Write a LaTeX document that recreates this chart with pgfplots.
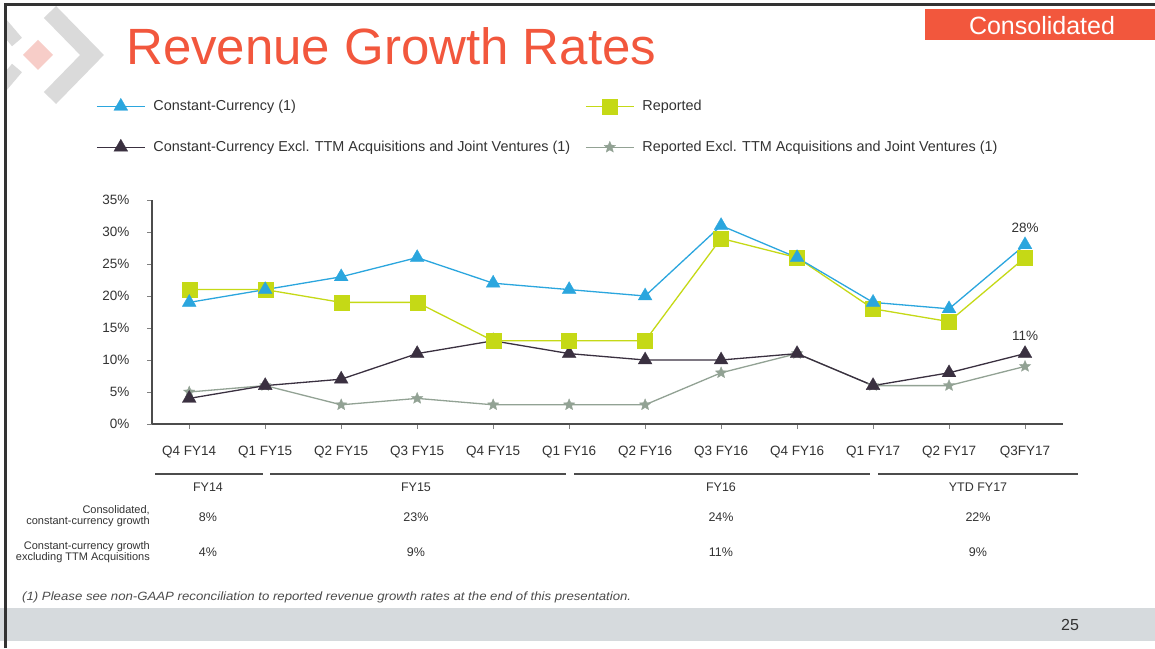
\documentclass[border=0pt]{standalone}
\usepackage{fontspec}
\setmainfont{Liberation Sans}
\usepackage{pgfplots}
\pgfplotsset{compat=1.18}
\definecolor{titlered}{HTML}{F2573D}
\definecolor{ccblue}{HTML}{2BA6DE}
\definecolor{repgreen}{HTML}{C5D916}
\definecolor{ccdark}{HTML}{3A3040}
\definecolor{repgray}{HTML}{92A294}
\definecolor{txt}{HTML}{333333}
\definecolor{footgray}{HTML}{D6DADD}
\definecolor{logogray}{HTML}{DADADA}
\definecolor{logopink}{HTML}{F7CDC8}
\pgfdeclareplotmark{fstar}{%
  \pgfpathmoveto{\pgfpointpolar{90}{\pgfplotmarksize}}%
  \pgfpathlineto{\pgfpointpolar{126}{0.45\pgfplotmarksize}}%
  \pgfpathlineto{\pgfpointpolar{162}{\pgfplotmarksize}}%
  \pgfpathlineto{\pgfpointpolar{198}{0.45\pgfplotmarksize}}%
  \pgfpathlineto{\pgfpointpolar{234}{\pgfplotmarksize}}%
  \pgfpathlineto{\pgfpointpolar{270}{0.45\pgfplotmarksize}}%
  \pgfpathlineto{\pgfpointpolar{306}{\pgfplotmarksize}}%
  \pgfpathlineto{\pgfpointpolar{342}{0.45\pgfplotmarksize}}%
  \pgfpathlineto{\pgfpointpolar{18}{\pgfplotmarksize}}%
  \pgfpathlineto{\pgfpointpolar{54}{0.45\pgfplotmarksize}}%
  \pgfpathclose
  \pgfusepathqfillstroke
}
\begin{document}
\begin{tikzpicture}[x=1pt,y=1pt]
\useasboundingbox (0,0) rectangle (1155,648);
\fill[white] (0,0) rectangle (1155,648);
% footer bar
\fill[footgray] (0,7) rectangle (1155,40);
\node[anchor=center, text=txt, font=\fontsize{16}{18}\selectfont] at (1070,23) {25};
% logo
\begin{scope}
\clip (6,642) rectangle (130,536);
\draw[logogray, line width=17pt, line join=miter] (50,636) -- (92,593) -- (50,550);
\draw[logogray, line width=13pt] (0,626) -- (17,606);
\draw[logogray, line width=13pt] (17,580) -- (0,560);
\fill[logopink] (38,608) -- (53,593) -- (38,578) -- (23,593) -- cycle;
\end{scope}
% frame
\draw[line width=3pt, black!80] (5,0) -- (5,643) -- (1155,643);
% title
\node[anchor=base west, text=titlered, inner sep=0pt, font=\fontsize{51}{56}\selectfont] at (126,583) {Revenue Growth Rates};
% consolidated box
\fill[titlered] (925,639) rectangle (1155,608);
\node[text=white, font=\fontsize{25}{27}\selectfont] at (1042,622) {Consolidated};

\begin{axis}[
  at={(152pt,224pt)}, anchor=south west,
  width=911pt, height=224pt, scale only axis,
  xmin=-0.49, xmax=11.5, ymin=0, ymax=35,
  axis x line*=bottom, axis y line*=left,
  axis line style={line width=1.6pt, draw=black!70, -},
  xtick={0,...,11},
  xticklabels={Q4 FY14,Q1 FY15,Q2 FY15,Q3 FY15,Q4 FY15,Q1 FY16,Q2 FY16,Q3 FY16,Q4 FY16,Q1 FY17,Q2 FY17,Q3FY17},
  ytick={0,5,...,35},
  yticklabel={\pgfmathprintnumber{\tick}\%},
  /pgf/number format/assume math mode=true,
  tick align=outside, major tick length=5pt,
  tick style={line width=0.8pt, black!50},
  ticklabel style={font=\fontsize{13.5}{15}\selectfont, text=txt},
  xticklabel style={yshift=-14pt},
  yticklabel style={xshift=-14pt},
  legend columns=2, reverse legend,
  legend cell align=left,
  legend image code/.code={\draw[mark repeat=2,mark phase=2,#1] plot coordinates {(0pt,0pt) (24pt,0pt) (48pt,0pt)};},
  legend style={at={(axis description cs:-0.0615,1.455)}, anchor=north west, draw=none, fill=none,
    font=\fontsize{14.4}{16}\selectfont, text=txt, inner sep=0pt, row sep=25pt,
    /tikz/every odd column/.append style={column sep=6pt},
    /tikz/every even column/.append style={column sep=13pt}},
  clip=false,
]
\addplot[repgray, line width=1.3pt, mark=fstar, mark size=6pt, mark options={line width=0.3pt, fill=repgray}]
  coordinates {(0,5) (1,6) (2,3) (3,4) (4,3) (5,3) (6,3) (7,8) (8,11) (9,6) (10,6) (11,9)};
\addlegendentry{Reported Excl. TTM Acquisitions and Joint Ventures (1)}
\addplot[ccdark, line width=1.3pt, mark=triangle*, mark size=8pt, mark options={line width=0.3pt, fill=ccdark}]
  coordinates {(0,4) (1,6) (2,7) (3,11) (4,13) (5,11) (6,10) (7,10) (8,11) (9,6) (10,8) (11,11)};
\addlegendentry{Constant-Currency Excl. TTM Acquisitions and Joint Ventures (1)}
\addplot[repgreen, line width=1.3pt, mark=square*, mark size=7.5pt, mark options={line width=0.3pt, fill=repgreen}]
  coordinates {(0,21) (1,21) (2,19) (3,19) (4,13) (5,13) (6,13) (7,29) (8,26) (9,18) (10,16) (11,26)};
\addlegendentry{Reported}
\addplot[ccblue, line width=1.3pt, mark=triangle*, mark size=8pt, mark options={line width=0.3pt, fill=ccblue}]
  coordinates {(0,19) (1,21) (2,23) (3,26) (4,22) (5,21) (6,20) (7,31) (8,26) (9,19) (10,18) (11,28)};
\addlegendentry{Constant-Currency (1)}
\node[anchor=south, text=txt, font=\fontsize{13.5}{15}\selectfont, yshift=9pt] at (axis cs:11,28) {28\%};
\node[anchor=south, text=txt, font=\fontsize{13.5}{15}\selectfont, yshift=9pt] at (axis cs:11,11) {11\%};
\end{axis}

% table below
\draw[line width=2pt, black!70] (155,174) -- (263,174);
\draw[line width=2pt, black!70] (270,174) -- (566,174);
\draw[line width=2pt, black!70] (574,174) -- (870,174);
\draw[line width=2pt, black!70] (878,174) -- (1078,174);
\begin{scope}[every node/.style={text=txt, font=\fontsize{12.5}{14}\selectfont, anchor=center}]
\node at (208,161) {FY14};
\node at (416,161) {FY15};
\node at (721,161) {FY16};
\node at (978,161) {YTD FY17};
\node at (208,131) {8\%};
\node at (416,131) {23\%};
\node at (721,131) {24\%};
\node at (978,131) {22\%};
\node at (208,96) {4\%};
\node at (416,96) {9\%};
\node at (721,96) {11\%};
\node at (978,96) {9\%};
\end{scope}
\node[anchor=east, align=right, text=txt, font=\fontsize{11}{11}\selectfont, inner sep=0pt] at (150,132) {Consolidated,\\constant-currency growth};
\node[anchor=east, align=right, text=txt, font=\fontsize{11}{11}\selectfont, inner sep=0pt] at (150,96) {Constant-currency growth\\excluding TTM Acquisitions};
% footnote
\node[anchor=west, inner sep=0pt, text=black!70] at (22,51) {\scalebox{1.1}[1]{\itshape\fontsize{12}{14}\selectfont (1) Please see non-GAAP reconciliation to reported revenue growth rates at the end of this presentation.}};
\end{tikzpicture}
\end{document}
